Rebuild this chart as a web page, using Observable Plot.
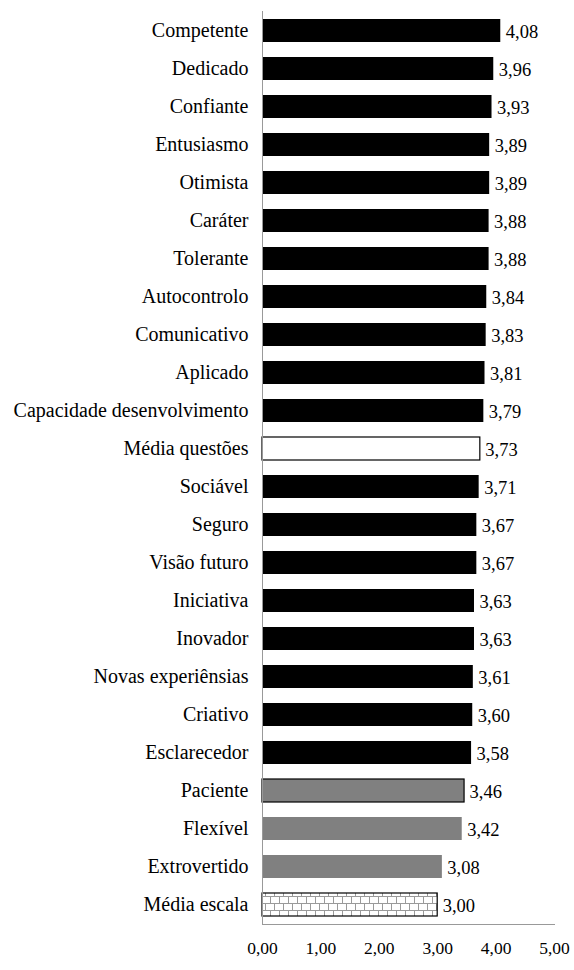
<!DOCTYPE html>
<html>
<head>
<meta charset="utf-8">
<script src="https://cdn.jsdelivr.net/npm/d3@7"></script>
<script src="https://cdn.jsdelivr.net/npm/@observablehq/plot@0.6"></script>
<style>
  html, body { margin: 0; padding: 0; background: #fff; }
  #chart svg { display: block; }
</style>
</head>
<body>
<div id="chart"></div>
<script>
const categories = [
  "Competente", "Dedicado", "Confiante", "Entusiasmo", "Otimista", "Caráter",
  "Tolerante", "Autocontrolo", "Comunicativo", "Aplicado",
  "Capacidade desenvolvimento", "Média questões", "Sociável", "Seguro",
  "Visão futuro", "Iniciativa", "Inovador", "Novas experiênsias", "Criativo",
  "Esclarecedor", "Paciente", "Flexível", "Extrovertido", "Média escala"
];
const values = [
  4.08, 3.96, 3.93, 3.89, 3.89, 3.88, 3.88, 3.84, 3.83, 3.81, 3.79, 3.73,
  3.71, 3.67, 3.67, 3.63, 3.63, 3.61, 3.60, 3.58, 3.46, 3.42, 3.08, 3.00
];
const groups = [
  "acima", "acima", "acima", "acima", "acima", "acima", "acima", "acima",
  "acima", "acima", "acima", "media_questoes", "acima", "acima", "acima",
  "acima", "acima", "acima", "acima", "acima", "abaixo", "abaixo", "abaixo",
  "media_escala"
];
const xTicks = [0, 1, 2, 3, 4, 5];

const data = categories.map((c, i) => ({category: c, value: values[i], group: groups[i]}));

const fillFor = {acima: "#000000", media_questoes: "#ffffff", abaixo: "#808080", media_escala: "url(#brick)"};
const outlined = new Set(["Média questões", "Paciente", "Média escala"]);
const fmt = v => d3.format(".2f")(v).replace(".", ",");
const FONT = "'Liberation Serif', 'Times New Roman', serif";

const chart = Plot.plot({
  width: 574,
  height: 970,
  marginLeft: 262,
  marginRight: 20,
  marginTop: 11,
  marginBottom: 46,
  style: {fontFamily: FONT, fontSize: "17px", color: "#000", background: "#fff"},
  x: {domain: [0, 5], label: null, axis: null},
  y: {domain: categories, label: null, axis: null, paddingInner: 0.4, paddingOuter: 0.2},
  marks: [
    Plot.barX(data, {
      y: "category", x: "value",
      fill: d => fillFor[d.group],
      stroke: d => outlined.has(d.category) ? "#000" : "none",
      strokeWidth: 1.2
    }),
    Plot.ruleX([0], {stroke: "#999", strokeWidth: 1}),
    Plot.frame({anchor: "bottom", stroke: "#999", strokeWidth: 1}),
    Plot.text(data, {
      y: "category", x: "value", text: d => fmt(d.value),
      textAnchor: "start", dx: 5, dy: 1, fontSize: 18.5, fill: "#000", fontFamily: FONT
    }),
    Plot.axisX({ticks: xTicks, tickFormat: fmt, tickSize: 0, tickPadding: 17, fill: "#000", fontSize: 17.5, fontFamily: FONT, label: null}),
    Plot.axisY({tickSize: 0, tickPadding: 14, fill: "#000", fontSize: 20, fontFamily: FONT, label: null})
  ]
});

// brick pattern definition
const svg = d3.select(chart);
const defs = svg.insert("defs", ":first-child");
const pat = defs.append("pattern")
  .attr("id", "brick").attr("patternUnits", "userSpaceOnUse")
  .attr("width", 18).attr("height", 14);
pat.append("rect").attr("width", 18).attr("height", 14).attr("fill", "#fff");
pat.append("path")
  .attr("d", "M0,0.5H18 M0,7.5H18 M0.5,0V7 M9.5,0V7 M4.5,7V14 M13.5,7V14")
  .attr("stroke", "#9a9a9a").attr("stroke-width", 1).attr("fill", "none");

svg.selectAll("text").style("font-family", FONT).style("font-variant", "normal");

document.getElementById("chart").appendChild(chart);
</script>
</body>
</html>
